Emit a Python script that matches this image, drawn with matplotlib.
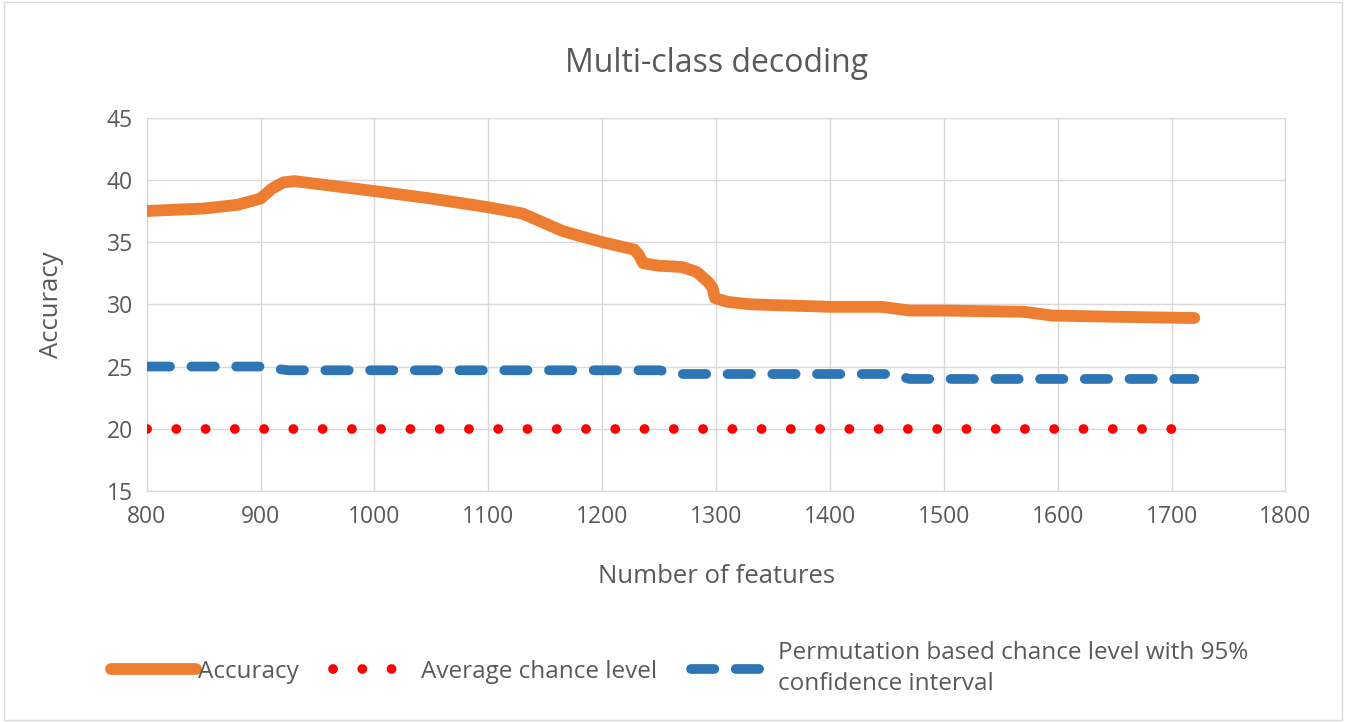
import matplotlib.pyplot as plt
from matplotlib.patches import Rectangle

plt.rcParams['font.family'] = ['Open Sans', 'DejaVu Sans']

# accuracy curve
acc_x = [800, 850, 880, 900, 910, 920, 930, 1000, 1050, 1100, 1130, 1150, 1165, 1180,
         1200, 1228, 1232, 1236, 1250, 1270, 1283, 1293, 1297, 1299, 1310, 1330, 1400,
         1445, 1470, 1500, 1570, 1595, 1650, 1720]
acc_y = [37.5, 37.7, 38.0, 38.5, 39.3, 39.8, 39.9, 39.1, 38.5, 37.8, 37.3, 36.5, 35.9, 35.5,
         35.0, 34.4, 34.0, 33.3, 33.1, 33.0, 32.6, 31.8, 31.3, 30.5, 30.2, 30.0, 29.8,
         29.8, 29.5, 29.5, 29.4, 29.1, 29.0, 28.9]

# permutation based chance level
perm_x = [800, 900, 915, 925, 1250, 1270, 1450, 1462, 1470, 1720]
perm_y = [25.0, 25.0, 24.8, 24.7, 24.7, 24.4, 24.4, 24.2, 24.0, 24.0]

# average chance level
chance_x = [800, 1700]
chance_y = [20, 20]

x_ticks = list(range(800, 1801, 100))
y_ticks = list(range(15, 46, 5))

grey = '#595959'
fig = plt.figure(figsize=(13.46, 7.22), dpi=100)
ax = fig.add_axes([0.109, 0.32, 0.846, 0.517])

ax.plot(acc_x, acc_y, color='#ED7D31', lw=8.5, solid_capstyle='round',
        solid_joinstyle='round', label='Accuracy', zorder=3)
ax.plot(chance_x, chance_y, color='#FF0000', lw=7, linestyle=(0, (0.01, 3.0)),
        dash_capstyle='round', label='Average chance level', zorder=3)
ax.plot(perm_x, perm_y, color='#2E75B6', lw=7, linestyle=(0, (2.4, 2.2)),
        dash_capstyle='round', dash_joinstyle='round',
        label='Permutation based chance level with 95%\nconfidence interval', zorder=3)

ax.set_xlim(800, 1800)
ax.set_ylim(15, 45)
ax.set_xticks(x_ticks)
ax.set_yticks(y_ticks)
ax.grid(True, color='#D9D9D9', lw=1)
ax.set_axisbelow(True)
for s in ax.spines.values():
    s.set_color('#D9D9D9')
ax.tick_params(length=0, labelsize=16.5, colors=grey, pad=10)

ax.set_title('Multi-class decoding', fontsize=23, color=grey, pad=33)
ax.set_xlabel('Number of features', fontsize=18.5, color=grey, labelpad=25)
ax.set_ylabel('Accuracy', fontsize=18.5, color=grey, labelpad=31)

leg = fig.legend(loc='center', bbox_to_anchor=(0.505, 0.074), ncol=3, frameon=False,
                 fontsize=17.5, handlelength=3.5, columnspacing=1.4, handletextpad=0.1,
                 labelspacing=0.3)
for t in leg.get_texts():
    t.set_color(grey)
    t.set_linespacing(1.4)

fig.patches.append(Rectangle((0.003, 0.003), 0.994, 0.994, transform=fig.transFigure,
                             fill=False, edgecolor='#D9D9D9', lw=1))

fig.savefig('out.png', dpi=100)
